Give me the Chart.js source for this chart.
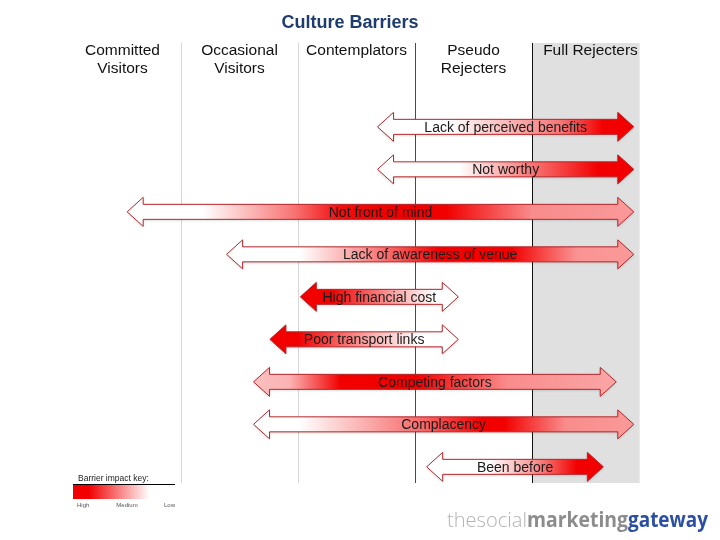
<!DOCTYPE html>
<html>
<head>
<meta charset="utf-8">
<script src="https://cdn.jsdelivr.net/npm/chart.js@4"></script>
<style>
  html, body { margin: 0; padding: 0; background: #ffffff; }
  canvas { display: block; }
</style>
</head>
<body>
<canvas id="barrierChart" width="720" height="540"></canvas>
<script>
// ── data ─────────────────────────────────────────────
const chartTitle = 'Culture Barriers';
const segments = [
    ['Committed', 'Visitors'],
    ['Occasional', 'Visitors'],
    ['Contemplators'],
    ['Pseudo', 'Rejecters'],
    ['Full Rejecters']
];
const barriers = [
    'Lack of perceived benefits',
    'Not worthy',
    'Not front of mind',
    'Lack of awareness of venue',
    'High financial cost',
    'Poor transport links',
    'Competing factors',
    'Complacency',
    'Been before'
];
// range of each barrier, in segment units (0 = left edge of Committed Visitors)
const rangeStart = [2.68, 2.68, 0.54, 1.39, 2.02, 1.76, 1.62, 1.62, 3.10];
const rangeEnd   = [4.87, 4.87, 4.87, 4.87, 3.37, 3.37, 4.72, 4.87, 4.61];
// impact along each arrow: [fraction along arrow, impact 0 (low) .. 1 (high)]
const impactStops = [
    [[0, 0], [0.28, 0], [0.72, 0.55], [0.88, 1], [1, 1]],
    [[0, 0], [0.32, 0], [0.58, 0.5], [0.86, 1], [1, 1]],
    [[0, 0], [0.15, 0], [0.33, 0.55], [0.42, 0.95], [0.5, 1], [0.63, 1], [0.8, 0.45], [1, 0.4]],
    [[0, 0], [0.18, 0], [0.42, 0.65], [0.52, 1], [0.7, 1], [0.86, 0.42], [1, 0.4]],
    [[0, 1], [0.2, 1], [0.6, 0.35], [0.85, 0], [1, 0]],
    [[0, 1], [0.15, 1], [0.55, 0.3], [0.8, 0], [1, 0]],
    [[0, 0.25], [0.1, 0.3], [0.24, 1], [0.45, 1], [0.7, 0.45], [1, 0.35]],
    [[0, 0], [0.12, 0], [0.45, 0.6], [0.6, 1], [0.66, 1], [0.82, 0.45], [1, 0.4]],
    [[0, 0], [0.35, 0], [0.6, 0.4], [0.85, 1], [1, 1]]
];
const keyLabels = ['High', 'Medium', 'Low'];
const keyStops = [[0, 1], [0.15, 1], [0.75, 0]];
const logoParts = ['thesocial', 'marketing', 'gateway'];

// ── helpers ──────────────────────────────────────────
const FONT = "'Liberation Sans', Arial, Helvetica, sans-serif";

function impactColor(v) {
    const g = Math.round(255 * (1 - v));
    return 'rgb(' + Math.round(255 - 13 * v) + ',' + g + ',' + g + ')';
}

function gradientFrom(ctx, x0, x1, stops) {
    const g = ctx.createLinearGradient(x0, 0, x1, 0);
    stops.forEach(s => g.addColorStop(s[0], impactColor(s[1])));
    return g;
}

function arrowPath(ctx, x0, x1, yc, shaftHalf, headHalf, headLen) {
    ctx.beginPath();
    ctx.moveTo(x0, yc);
    ctx.lineTo(x0 + headLen, yc - headHalf);
    ctx.lineTo(x0 + headLen, yc - shaftHalf);
    ctx.lineTo(x1 - headLen, yc - shaftHalf);
    ctx.lineTo(x1 - headLen, yc - headHalf);
    ctx.lineTo(x1, yc);
    ctx.lineTo(x1 - headLen, yc + headHalf);
    ctx.lineTo(x1 - headLen, yc + shaftHalf);
    ctx.lineTo(x0 + headLen, yc + shaftHalf);
    ctx.lineTo(x0 + headLen, yc + headHalf);
    ctx.closePath();
}

// ── background: columns, headers, title, key, logo ──
const diagramBackground = {
    id: 'diagramBackground',
    beforeDatasetsDraw(chart) {
        const ctx = chart.ctx;
        const xs = chart.scales.x;
        const top = 43, bottom = 483;
        ctx.save();

        // Full Rejecters shading
        ctx.fillStyle = '#e0e0e0';
        const sx = xs.getPixelForValue(4);
        ctx.fillRect(sx, top, xs.getPixelForValue(4.92) - sx, bottom - top);

        // column dividers
        const dividerColors = ['#d6d6d6', '#d6d6d6', '#4a4a4a', '#111111'];
        dividerColors.forEach((c, i) => {
            const px = Math.round(xs.getPixelForValue(i + 1)) + 0.5;
            ctx.strokeStyle = c;
            ctx.lineWidth = 1;
            ctx.beginPath();
            ctx.moveTo(px, top);
            ctx.lineTo(px, bottom);
            ctx.stroke();
        });

        // column headers
        ctx.fillStyle = '#111111';
        ctx.font = '15.5px ' + FONT;
        ctx.textAlign = 'center';
        ctx.textBaseline = 'middle';
        segments.forEach((lines, i) => {
            const cx = xs.getPixelForValue(i + 0.5);
            lines.forEach((t, j) => ctx.fillText(t, cx, 51 + j * 18));
        });

        // title
        ctx.fillStyle = '#1f3c6e';
        ctx.font = 'bold 18px ' + FONT;
        ctx.fillText(chartTitle, 350, 23);

        // impact key
        ctx.textAlign = 'left';
        ctx.textBaseline = 'alphabetic';
        ctx.fillStyle = '#222222';
        ctx.font = '8.5px ' + FONT;
        ctx.fillText('Barrier impact key:', 78, 481);
        ctx.fillStyle = gradientFrom(ctx, 73, 175, keyStops);
        ctx.fillRect(73, 484, 102, 15);
        ctx.strokeStyle = '#000000';
        ctx.beginPath();
        ctx.moveTo(73, 484.5);
        ctx.lineTo(175, 484.5);
        ctx.stroke();
        ctx.fillStyle = '#555555';
        ctx.font = '6px ' + FONT;
        ctx.textAlign = 'left';
        ctx.fillText(keyLabels[0], 77, 507);
        ctx.textAlign = 'center';
        ctx.fillText(keyLabels[1], 127, 507);
        ctx.textAlign = 'right';
        ctx.fillText(keyLabels[2], 175, 507);

        // logo
        const logoStyle = [
            ['300', '#b3b3b3', 447, 80],
            ['bold', '#8c8c8c', 527, 101],
            ['bold', '#2b4fa3', 628, 80]
        ];
        ctx.textAlign = 'left';
        logoParts.forEach((t, i) => {
            const st = logoStyle[i];
            ctx.font = st[0] + " 21px 'Open Sans', " + FONT;
            ctx.fillStyle = st[1];
            const w = ctx.measureText(t).width;
            ctx.save();
            ctx.translate(st[2], 527);
            ctx.scale(st[3] / w, 1);
            ctx.fillText(t, 0, 0);
            ctx.restore();
        });

        ctx.restore();
    },
    afterDatasetsDraw(chart) {
        const ctx = chart.ctx;
        const meta = chart.getDatasetMeta(0);
        ctx.save();
        meta.data.forEach((bar, i) => {
            const x0 = Math.min(bar.x, bar.base);
            const x1 = Math.max(bar.x, bar.base);
            const yc = bar.y;
            const shaftHalf = bar.height / 2;
            arrowPath(ctx, x0, x1, yc, shaftHalf, 14.5, 16);
            ctx.shadowColor = 'rgba(0,0,0,0.18)';
            ctx.shadowBlur = 3;
            ctx.shadowOffsetY = 1;
            ctx.fillStyle = gradientFrom(ctx, x0, x1, impactStops[i]);
            ctx.fill();
            ctx.shadowColor = 'transparent';
            ctx.strokeStyle = '#b3262a';
            ctx.lineWidth = 1;
            ctx.stroke();

            ctx.fillStyle = '#1a1a1a';
            ctx.font = '14px ' + FONT;
            ctx.textAlign = 'center';
            ctx.textBaseline = 'middle';
            ctx.fillText(barriers[i], (x0 + x1) / 2, yc + 1);
        });
        ctx.restore();
    }
};

// ── chart ────────────────────────────────────────────
new Chart(document.getElementById('barrierChart'), {
    type: 'bar',
    data: {
        labels: barriers,
        datasets: [{
            data: barriers.map((b, i) => [rangeStart[i], rangeEnd[i]]),
            backgroundColor: 'rgba(0,0,0,0)',
            borderWidth: 0,
            barThickness: 15
        }]
    },
    options: {
        indexAxis: 'y',
        responsive: false,
        animation: false,
        layout: { padding: { left: 64, right: 71, top: 105.6, bottom: 51.9 } },
        plugins: {
            legend: { display: false },
            tooltip: { enabled: false },
            title: { display: false }
        },
        scales: {
            x: { type: 'linear', min: 0, max: 5, display: false },
            y: { display: false }
        }
    },
    plugins: [diagramBackground]
});
</script>
</body>
</html>
